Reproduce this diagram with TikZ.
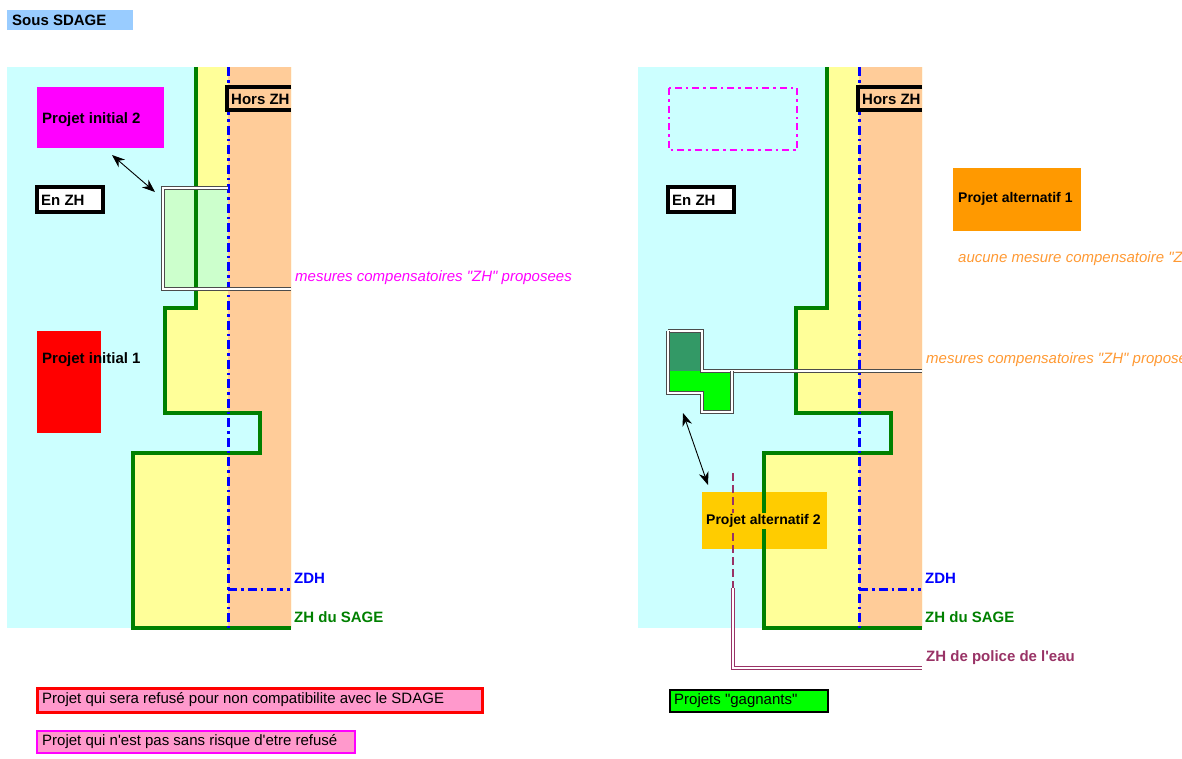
\documentclass[tikz,border=0pt]{standalone}
\usepackage{fontspec}
\setmainfont{Liberation Sans}[Ligatures=TeXOff]
\usetikzlibrary{arrows.meta}
\definecolor{bgcyan}{HTML}{CCFFFF}
\definecolor{zyellow}{HTML}{FFFF99}
\definecolor{zorange}{HTML}{FFCC99}
\definecolor{zgreen}{HTML}{008000}
\definecolor{zblue}{HTML}{0000FF}
\definecolor{lgreen}{HTML}{CCFFCC}
\definecolor{dgreen}{HTML}{339966}
\definecolor{bgreen}{HTML}{00FF00}
\definecolor{lblue}{HTML}{99CCFF}
\definecolor{lpink}{HTML}{FF99CC}
\definecolor{orangebox}{HTML}{FF9900}
\definecolor{goldbox}{HTML}{FFCC00}
\definecolor{purp}{HTML}{993366}
\definecolor{lorange}{HTML}{FF9933}
\definecolor{magent}{HTML}{FF00FF}
\begin{document}
\begin{tikzpicture}[x=1pt,y=-1pt,
  txt/.style={anchor=west, inner sep=0pt, font=\fontsize{15}{18}\selectfont},
  btxt/.style={txt, font=\fontsize{15}{18}\selectfont\bfseries},
  bstxt/.style={txt, font=\fontsize{14}{17}\selectfont\bfseries},
  itxt/.style={txt, font=\fontsize{15}{18}\selectfont\itshape},
  area/.style={anchor=north west, inner sep=0pt, outer sep=0pt, draw=none},
  zline/.style={draw=zgreen, line width=4.5pt, line join=miter},
  zdh/.style={draw=zblue, line width=3pt, dash pattern=on 9pt off 4pt on 2.5pt off 4pt},
  dbl/.style={draw=black!70, line width=1pt, double=white, double distance=2.2pt},
  pdbl/.style={draw=purp, line width=1pt, double=white, double distance=2.2pt},
  arr/.style={line width=0.9pt, {Stealth[length=13pt,width=10pt]}-{Stealth[length=13pt,width=10pt]}},
  tag/.style={line width=3.5pt, line join=miter}
]
\useasboundingbox (0,0) rectangle (1182,758);
\clip (0,0) rectangle (1182,758);

% title
\fill[lblue] (7,10) rectangle (133,30);
\node[btxt] (title) at (12,20) {Sous SDAGE};

% panel backgrounds
\foreach \s in {0,631} {
  \begin{scope}[xshift=\s pt]
    \fill[bgcyan] (7,67) rectangle (291,628);
    \fill[zyellow] (196,67) -- (196,308) -- (165,308) -- (165,413) -- (260,413) -- (260,453) -- (133,453) -- (133,628) -- (291,628) -- (291,67) -- cycle;
    \begin{scope}
      \clip (196,67) -- (196,308) -- (165,308) -- (165,413) -- (260,413) -- (260,453) -- (133,453) -- (133,628) -- (291,628) -- (291,67) -- cycle;
      \fill[zorange] (228,60) rectangle (295,640);
    \end{scope}
  \end{scope}
}

% left: compensation area
\node[area, fill=lgreen, minimum width=65pt, minimum height=101pt] (mc1) at (163,188) {};
% right: Projet alternatif 2 box
\node[area, fill=goldbox, minimum width=125pt, minimum height=57pt] (pa2) at (702,492) {};

% boundary lines
\foreach \s in {0,631} {
  \begin{scope}[xshift=\s pt]
    \draw[zline] (196,67) -- (196,308) -- (165,308) -- (165,413) -- (260,413) -- (260,453) -- (133,453) -- (133,628) -- (291,628);
    \draw[zdh] (228,67) -- (228,628);
    \draw[zdh] (228,589) -- (290,589);
    \fill[zorange] (227,87) rectangle (291,110);
    \draw[tag] (291,87) -- (227,87) -- (227,110) -- (291,110);
    \node[btxt] (hors\s) at (231,99) {Hors ZH};
    \draw[tag, fill=white] (37,187) rectangle (103,212);
    \node[btxt] (enzh\s) at (41,200) {En ZH};
    \node[btxt, text=zblue] (zdhl\s) at (294,578) {ZDH};
    \node[btxt, text=zgreen] (sage\s) at (294,617) {ZH du SAGE};
  \end{scope}
}

% ---------- left panel ----------
\node[area, fill=magent, minimum width=127pt, minimum height=61pt] (pi2) at (37,87) {};
\node[btxt] (pi2t) at (42,120) {Projet initial 2};
\node[area, fill=red, minimum width=64pt, minimum height=102pt] (pi1) at (37,331) {};
\node[btxt] (pi1t) at (42,360) {Projet initial 1};
\draw[dbl] (228,188) -- (163,188) -- (163,289) -- (291,289);
\node[itxt, text=magent] (mcl) at (295,278) {mesures compensatoires "ZH" proposees};
\coordinate (a1s) at (112,155);
\coordinate (a1e) at (155,192);
\draw[arr] (a1s) -- (a1e);

% ---------- right panel ----------
\draw[magent, line width=2.5pt, dash pattern=on 7pt off 4pt on 2.5pt off 4pt] (669,88) rectangle (797,150);
\node[area, fill=orangebox, minimum width=128pt, minimum height=63pt] (pa1) at (953,168) {};
\node[bstxt] (pa1t) at (958,199) {Projet alternatif 1};
\node[itxt, text=lorange] (aucune) at (958,259) {aucune mesure compensatoire "ZH"};
% compound compensation shape
\fill[dgreen] (668,331) rectangle (702,371);
\fill[bgreen] (668,371) -- (732,371) -- (732,412) -- (702,412) -- (702,393) -- (668,393) -- cycle;
\draw[dbl] (668,331) -- (702,331) -- (702,371) -- (922,371);
\draw[dbl] (668,331) -- (668,393) -- (702,393) -- (702,412) -- (732,412) -- (732,371);
\node[itxt, text=lorange] (mcr) at (926,360) {mesures compensatoires "ZH" proposees};
\coordinate (a2s) at (683,413);
\coordinate (a2e) at (708,485);
\draw[arr] (a2s) -- (a2e);
% police de l'eau
\draw[purp, line width=1.5pt, dash pattern=on 8pt off 4pt] (733,473) -- (733,588);
\draw[pdbl] (733,588) -- (733,668) -- (922,668);
\node[btxt, text=purp] (police) at (926,658) {ZH de police de l'eau};
\node[bstxt, fill=goldbox, inner sep=1pt] (pa2t) at (705,521) {Projet alternatif 2};

% ---------- legend ----------
\draw[red, line width=3pt, fill=lpink] (37,688) rectangle (482,712);
\node[txt] (leg1) at (42,700) {Projet qui sera refusé pour non compatibilite avec le SDAGE};
\draw[magent, line width=2pt, fill=lpink] (37,731) rectangle (355,753);
\node[txt] (leg2) at (42,742) {Projet qui n'est pas sans risque d'etre refusé};
\draw[black, line width=1.5pt, fill=bgreen] (670,690) rectangle (828,712);
\node[txt] (leg3) at (674,701) {Projets "gagnants"};
\end{tikzpicture}
\end{document}
